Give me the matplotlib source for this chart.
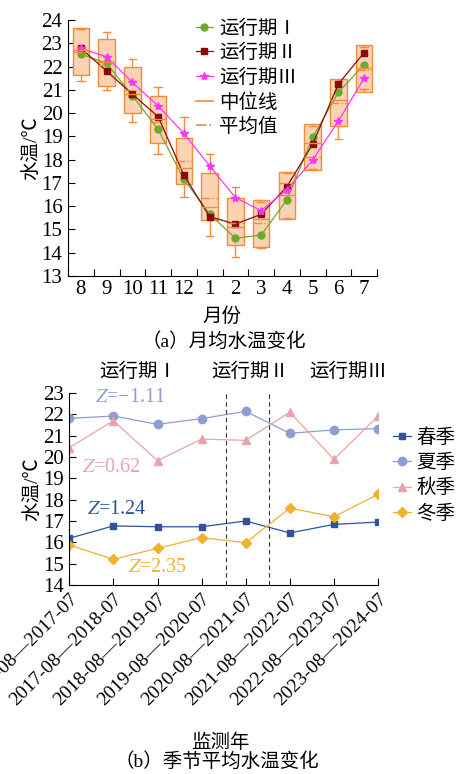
import matplotlib
matplotlib.use('Agg')
import matplotlib.pyplot as plt
from matplotlib.lines import Line2D
import numpy as np

plt.rcParams['font.family'] = ['Liberation Serif', 'Noto Sans CJK SC']
plt.rcParams['mathtext.fontset'] = 'stix'
plt.rcParams['font.size'] = 14

# ---------- (a) monthly water temperature ----------
months = ['8', '9', '10', '11', '12', '1', '2', '3', '4', '5', '6', '7']
box_q1 = [21.64, 21.18, 19.99, 18.73, 16.94, 15.40, 14.33, 14.23, 15.45, 17.55, 19.45, 20.92]
box_q3 = [23.64, 23.17, 21.97, 20.74, 18.94, 17.41, 16.34, 16.27, 17.48, 19.52, 21.45, 22.91]
box_lo = [21.39, 20.99, 19.60, 18.23, 16.41, 14.72, 13.83, 14.20, 15.50, 17.58, 18.87, 21.02]
box_hi = [23.60, 23.47, 22.33, 21.13, 19.85, 18.23, 16.81, 16.17, 17.42, 19.46, 21.40, 22.85]
box_med = [22.71, 22.20, 20.84, 19.75, 17.63, 15.95, 15.09, 15.45, 16.48, 18.70, 20.55, 21.95]
box_mean = [22.64, 22.05, 20.98, 19.60, 17.92, 16.36, 15.29, 15.28, 16.98, 18.13, 20.45, 21.85]

period1 = [22.53, 22.14, 20.75, 19.30, 17.16, 15.66, 14.62, 14.76, 16.27, 18.96, 20.89, 22.08]
period2 = [22.78, 21.81, 20.81, 19.85, 17.34, 15.55, 15.23, 15.65, 16.84, 18.66, 21.25, 22.60]
period3 = [22.78, 22.42, 21.32, 20.31, 19.13, 17.73, 16.37, 15.81, 16.70, 17.98, 19.66, 21.50]
period_labels = ['运行期Ⅰ', '运行期Ⅱ', '运行期Ⅲ']

# ---------- (b) seasonal mean water temperature ----------
years = ['2016-08—2017-07', '2017-08—2018-07', '2018-08—2019-07', '2019-08—2020-07',
         '2020-08—2021-07', '2021-08—2022-07', '2022-08—2023-07', '2023-08—2024-07']
spring = [16.19, 16.77, 16.73, 16.73, 17.00, 16.44, 16.84, 16.95]
summer = [21.81, 21.92, 21.53, 21.80, 22.14, 21.11, 21.27, 21.33]
autumn = [20.44, 21.70, 19.83, 20.84, 20.78, 22.10, 19.89, 21.92]
winter = [15.88, 15.20, 15.72, 16.22, 15.98, 17.60, 17.20, 18.25]
season_labels = ['春季', '夏季', '秋季', '冬季']
z_values = ['−1.11', '0.62', '1.24', '2.35']
period_bounds = [3.55, 4.53]

W, H = 461, 774
fig = plt.figure(figsize=(W / 100, H / 100), dpi=100)


def fx(px):
    return px / W


def fy(py):
    return 1 - py / H


box_edge = '#F08C3E'
box_fill = '#FBD2B2'
c_p1, c_p2, c_p3 = '#6DAA2C', '#8B0A0A', '#FF33FF'
tick_fs = 15

ax1 = fig.add_axes([fx(68), fy(276), (377 - 68) / W, (276 - 20) / H])
pos = np.arange(1, len(months) + 1)
stats = [dict(med=m, q1=a, q3=b, whislo=lo, whishi=hi, mean=mn, fliers=[])
         for m, a, b, lo, hi, mn in zip(box_med, box_q1, box_q3, box_lo, box_hi, box_mean)]
ax1.bxp(stats, positions=pos, widths=0.65, patch_artist=True, showmeans=True,
        meanline=True, showfliers=False, manage_ticks=False, capwidths=0.3,
        boxprops=dict(facecolor=box_fill, edgecolor=box_edge, linewidth=1.0),
        whiskerprops=dict(color=box_edge, linewidth=1.0),
        capprops=dict(color=box_edge, linewidth=1.0),
        medianprops=dict(color=box_edge, linewidth=1.0),
        meanprops=dict(color=box_edge, linewidth=1.0, linestyle='-.'))

h1, = ax1.plot(pos, period1, color=c_p1, marker='o', ms=5, lw=0.9, label=period_labels[0])
h2, = ax1.plot(pos, period2, color=c_p2, marker='s', ms=5, lw=0.9, label=period_labels[1])
h3, = ax1.plot(pos, period3, color=c_p3, marker='*', ms=6, lw=0.9, label=period_labels[2])
hmed = Line2D([], [], color=box_edge, lw=1.2, label='中位线')
hmean = Line2D([], [], color=box_edge, lw=1.2, ls='-.', label='平均值')

ax1.set_xlim(0.5, len(months) + 0.5)
ax1.set_ylim(13, 24)
ax1.set_yticks(np.arange(13, 25))
ax1.set_xticks(np.arange(0.5, len(months) + 1))
ax1.set_xticklabels([])
ax1.set_xticks(pos, minor=True)
ax1.set_xticklabels(months, minor=True)
ax1.tick_params(axis='x', which='minor', length=0, pad=3, labelsize=tick_fs)
ax1.tick_params(axis='both', which='major', direction='in', length=5, width=0.8)
ax1.tick_params(axis='y', pad=4, labelsize=tick_fs)
for s in ['top', 'right']:
    ax1.spines[s].set_visible(False)
ax1.set_ylabel('水温/℃', labelpad=1)
ax1.legend(handles=[h1, h2, h3, hmed, hmean], loc='upper left',
           bbox_to_anchor=(fx(196), fy(19)), bbox_transform=fig.transFigure,
           frameon=False, borderpad=0, borderaxespad=0, handlelength=0.85,
           handletextpad=0.35, labelspacing=0.32, fontsize=14)

fig.text(fx(222), fy(317), '月份', ha='center', va='center', fontsize=14)
fig.text(fx(224), fy(342), '（a）月均水温变化', ha='center', va='center', fontsize=14)

# ---------- seasonal panel ----------
c_spr, c_sum, c_aut, c_win = '#2F5597', '#8E9ED0', '#E9A3AA', '#EDB22E'
ax2 = fig.add_axes([fx(69.3), fy(585), (378 - 69.3) / W, (585 - 393) / H])
x = np.arange(len(years))
ax2.plot(x, spring, color=c_spr, marker='s', ms=5, lw=0.9, label=season_labels[0])
ax2.plot(x, summer, color=c_sum, marker='o', ms=6, lw=0.9, label=season_labels[1])
ax2.plot(x, autumn, color=c_aut, marker='^', ms=6, lw=0.9, label=season_labels[2])
ax2.plot(x, winter, color=c_win, marker='D', ms=5, lw=0.9, label=season_labels[3])
for b in period_bounds:
    ax2.axvline(b, color='#333333', ls='--', lw=0.8, dashes=(4, 3))

ax2.set_xlim(0, len(years) - 1)
ax2.set_ylim(14, 23)
ax2.set_yticks(np.arange(14, 24))
ax2.set_xticks(x)
ax2.set_xticklabels(years, rotation=45, ha='right', va='top', rotation_mode='anchor')
ax2.tick_params(axis='both', direction='in', length=5, width=0.8)
ax2.tick_params(axis='y', pad=4, labelsize=tick_fs)
ax2.tick_params(axis='x', pad=4, labelsize=14)
for s in ['top', 'right']:
    ax2.spines[s].set_visible(False)
ax2.set_ylabel('水温/℃', labelpad=1)

z_pos = [(0.58, 22.77, c_sum), (0.29, 19.49, c_aut), (0.40, 17.52, c_spr), (1.33, 14.80, c_win)]
z_text = {c_sum: z_values[0], c_aut: z_values[1], c_spr: z_values[2], c_win: z_values[3]}
for (zx, zy, col) in z_pos:
    ax2.text(zx, zy, '$Z$=' + z_text[col], color=col, ha='left', va='center', fontsize=14.5)

ax2.legend(loc='upper left', bbox_to_anchor=(fx(393), fy(428)), bbox_transform=fig.transFigure,
           frameon=False, borderpad=0, borderaxespad=0, handlelength=0.95,
           handletextpad=0.25, labelspacing=0.36, fontsize=14)

for label, px in zip(period_labels, [138, 250, 348]):
    fig.text(fx(px), fy(372), label, ha='center', va='center', fontsize=14)

fig.text(fx(220), fy(743), '监测年', ha='center', va='center', fontsize=14)
fig.text(fx(217), fy(762), '（b）季节平均水温变化', ha='center', va='center', fontsize=14)

fig.savefig('out.png', dpi=100)
